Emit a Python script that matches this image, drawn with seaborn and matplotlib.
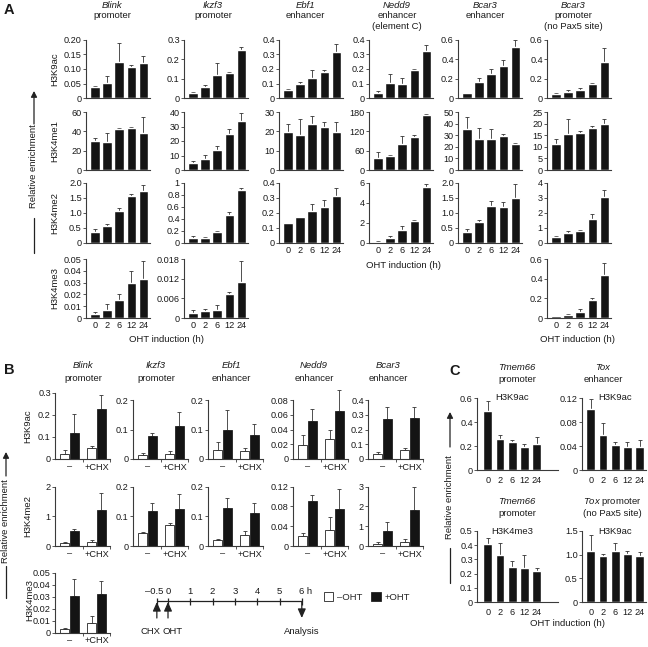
import numpy as np
import pandas as pd
import matplotlib
matplotlib.use("Agg")
import matplotlib.pyplot as plt
import seaborn as sns
from matplotlib.patches import FancyArrowPatch, Patch
from matplotlib.lines import Line2D

sns.set_theme(style="ticks")
plt.rcParams["font.family"] = ["Liberation Sans", "DejaVu Sans"]
plt.rcParams["mathtext.fontset"] = "custom"
plt.rcParams["mathtext.rm"] = "Liberation Sans"
plt.rcParams["mathtext.it"] = "Liberation Sans:italic"

# ---------------- DATA ----------------
times = ["0", "2", "6", "12", "24"]

# Panel A
a_cols = ["Blink", "Ikzf3", "Ebf1", "Nedd9", "Bcar3e", "Bcar3p"]
a_titles = [("Blink", ["promoter"]), ("Ikzf3", ["promoter"]), ("Ebf1", ["enhancer"]),
            ("Nedd9", ["enhancer", "(element C)"]), ("Bcar3", ["enhancer"]),
            ("Bcar3", ["promoter", "(no Pax5 site)"])]
a_marks = ["H3K9ac", "H3K4me1", "H3K4me2", "H3K4me3"]

a_h3k9ac = {"Blink": [0.038, 0.052, 0.122, 0.108, 0.121],
            "Ikzf3": [0.028, 0.058, 0.120, 0.130, 0.248],
            "Ebf1": [0.055, 0.100, 0.135, 0.180, 0.312],
            "Nedd9": [0.033, 0.103, 0.098, 0.195, 0.320],
            "Bcar3e": [0.055, 0.170, 0.250, 0.330, 0.520],
            "Bcar3p": [0.045, 0.065, 0.085, 0.150, 0.375]}
a_h3k9ac_err = {"Blink": [0.005, 0.024, 0.066, 0.005, 0.022],
                "Ikzf3": [0.005, 0.012, 0.062, 0.002, 0.013],
                "Ebf1": [0.010, 0.010, 0.055, 0.010, 0.055],
                "Nedd9": [0.020, 0.060, 0.040, 0.007, 0.042],
                "Bcar3e": [0.003, 0.040, 0.050, 0.060, 0.080],
                "Bcar3p": [0.005, 0.015, 0.020, 0.005, 0.135]}
a_h3k9ac_ticks = {"Blink": ["0", "0.05", "0.10", "0.15", "0.20"],
                  "Ikzf3": ["0", "0.1", "0.2", "0.3"],
                  "Ebf1": ["0", "0.1", "0.2", "0.3", "0.4"],
                  "Nedd9": ["0", "0.1", "0.2", "0.3", "0.4"],
                  "Bcar3e": ["0", "0.2", "0.4", "0.6"],
                  "Bcar3p": ["0", "0.2", "0.4", "0.6"]}

a_h3k4me1 = {"Blink": [30, 29, 42, 43, 38],
             "Ikzf3": [5, 7.5, 13.5, 25, 33.5],
             "Ebf1": [19.5, 18, 24, 22.5, 19.5],
             "Nedd9": [38, 42, 80, 103, 170],
             "Bcar3e": [35.5, 26.5, 26.5, 29.5, 22.5],
             "Bcar3p": [11, 15.5, 16, 18, 20]}
a_h3k4me1_err = {"Blink": [3, 9, 1, 1, 17],
                 "Ikzf3": [1.5, 3, 3, 3.5, 6],
                 "Ebf1": [4.5, 8.5, 4, 2.5, 5.5],
                 "Nedd9": [17, 5, 25, 7, 5],
                 "Bcar3e": [10.5, 10, 8.5, 1.5, 1],
                 "Bcar3p": [2.5, 6.5, 1, 0.8, 2]}
a_h3k4me1_ticks = {"Blink": ["0", "20", "40", "60"],
                   "Ikzf3": ["0", "10", "20", "30", "40"],
                   "Ebf1": ["0", "10", "20", "30"],
                   "Nedd9": ["0", "60", "120", "180"],
                   "Bcar3e": ["0", "10", "20", "30", "40", "50"],
                   "Bcar3p": ["0", "5", "10", "15", "20", "25"]}

a_h3k4me2 = {"Blink": [0.35, 0.57, 1.08, 1.55, 1.72],
             "Ikzf3": [0.08, 0.08, 0.18, 0.47, 0.88],
             "Ebf1": [0.13, 0.17, 0.215, 0.24, 0.314],
             "Nedd9": [0.12, 0.45, 1.3, 2.15, 5.6],
             "Bcar3e": [0.37, 0.70, 1.22, 1.20, 1.50],
             "Bcar3p": [0.40, 0.68, 0.80, 1.63, 3.08]}
a_h3k4me2_err = {"Blink": [0.12, 0.07, 0.07, 0.07, 0.22],
                 "Ikzf3": [0.04, 0.015, 0.02, 0.04, 0.04],
                 "Ebf1": [0.005, 0.005, 0.045, 0.045, 0.05],
                 "Nedd9": [0.05, 0.25, 0.4, 0.1, 0.3],
                 "Bcar3e": [0.10, 0.07, 0.18, 0.15, 0.45],
                 "Bcar3p": [0.05, 0.12, 0.04, 0.30, 0.42]}
a_h3k4me2_ticks = {"Blink": ["0", "0.5", "1.0", "1.5", "2.0"],
                   "Ikzf3": ["0", "0.2", "0.4", "0.6", "0.8", "1"],
                   "Ebf1": ["0", "0.1", "0.2", "0.3", "0.4"],
                   "Nedd9": ["0", "2", "4", "6"],
                   "Bcar3e": ["0", "0.5", "1.0", "1.5", "2.0"],
                   "Bcar3p": ["0", "1", "2", "3", "4"]}

a_h3k4me3 = {"Blink": [0.003, 0.007, 0.015, 0.030, 0.033],
             "Ikzf3": [0.0015, 0.002, 0.0025, 0.0073, 0.011],
             "Bcar3p": [0.020, 0.035, 0.065, 0.180, 0.440]}
a_h3k4me3_err = {"Blink": [0.002, 0.005, 0.005, 0.010, 0.015],
                 "Ikzf3": [0.001, 0.0008, 0.0015, 0.0005, 0.0063],
                 "Bcar3p": [0.003, 0.005, 0.030, 0.020, 0.120]}
a_h3k4me3_ticks = {"Blink": ["0", "0.01", "0.02", "0.03", "0.04", "0.05"],
                   "Ikzf3": ["0", "0.006", "0.012", "0.018"],
                   "Bcar3p": ["0", "0.2", "0.4", "0.6"]}

# Panel B
b_cols = ["Blink", "Ikzf3", "Ebf1", "Nedd9", "Bcar3"]
b_titles = [("Blink", "promoter"), ("Ikzf3", "promoter"), ("Ebf1", "enhancer"),
            ("Nedd9", "enhancer"), ("Bcar3", "enhancer")]
b_groups = ["\u2013", "+CHX"]
b_conds = ["\u2013OHT", "+OHT"]
# order: (-, -OHT), (-, +OHT), (+CHX, -OHT), (+CHX, +OHT)
b_h3k9ac = {"Blink": [0.025, 0.120, 0.048, 0.228],
            "Ikzf3": [0.012, 0.078, 0.017, 0.112],
            "Ebf1": [0.030, 0.100, 0.028, 0.083],
            "Nedd9": [0.019, 0.051, 0.027, 0.065],
            "Bcar3": [0.035, 0.270, 0.060, 0.275]}
b_h3k9ac_err = {"Blink": [0.015, 0.085, 0.012, 0.065],
                "Ikzf3": [0.010, 0.010, 0.010, 0.048],
                "Ebf1": [0.027, 0.065, 0.010, 0.035],
                "Nedd9": [0.013, 0.017, 0.013, 0.028],
                "Bcar3": [0.012, 0.085, 0.015, 0.075]}
b_h3k9ac_ticks = {"Blink": ["0", "0.1", "0.2", "0.3"],
                  "Ikzf3": ["0", "0.1", "0.2"],
                  "Ebf1": ["0", "0.1", "0.2"],
                  "Nedd9": ["0", "0.02", "0.04", "0.06", "0.08"],
                  "Bcar3": ["0", "0.1", "0.2", "0.3", "0.4"]}
b_h3k4me2 = {"Blink": [0.10, 0.52, 0.15, 1.22],
             "Ikzf3": [0.045, 0.118, 0.070, 0.124],
             "Ebf1": [0.020, 0.127, 0.037, 0.112],
             "Nedd9": [0.020, 0.092, 0.033, 0.075],
             "Bcar3": [0.12, 0.77, 0.22, 1.80]}
b_h3k4me2_err = {"Blink": [0.04, 0.04, 0.06, 0.57],
                 "Ikzf3": [0.003, 0.028, 0.006, 0.052],
                 "Ebf1": [0.005, 0.035, 0.012, 0.032],
                 "Nedd9": [0.007, 0.012, 0.025, 0.040],
                 "Bcar3": [0.08, 0.43, 0.13, 1.20]}
b_h3k4me2_ticks = {"Blink": ["0", "1", "2"],
                   "Ikzf3": ["0", "0.1", "0.2"],
                   "Ebf1": ["0", "0.1", "0.2"],
                   "Nedd9": ["0", "0.04", "0.08", "0.12"],
                   "Bcar3": ["0", "1", "2", "3"]}
b_h3k4me3_blink = [0.003, 0.031, 0.008, 0.032]
b_h3k4me3_blink_err = [0.001, 0.014, 0.006, 0.011]
b_h3k4me3_blink_ticks = ["0", "0.01", "0.02", "0.03", "0.04", "0.05"]

timeline_t = [-0.5, 0, 1, 2, 3, 4, 5, 6]
timeline_labels = ["\u20130.5", "0", "1", "2", "3", "4", "5", "6 h"]

# Panel C
c_tmem66_h3k9ac = [0.49, 0.255, 0.235, 0.19, 0.215]
c_tmem66_h3k9ac_err = [0.085, 0.04, 0.012, 0.025, 0.06]
c_tmem66_h3k9ac_ticks = ["0", "0.2", "0.4", "0.6"]
c_tox_enh_h3k9ac = [0.101, 0.059, 0.041, 0.038, 0.039]
c_tox_enh_h3k9ac_err = [0.018, 0.020, 0.006, 0.009, 0.011]
c_tox_enh_h3k9ac_ticks = ["0", "0.04", "0.08", "0.12"]
c_tmem66_h3k4me3 = [0.405, 0.33, 0.25, 0.242, 0.215]
c_tmem66_h3k4me3_err = [0.048, 0.082, 0.037, 0.092, 0.022]
c_tmem66_h3k4me3_ticks = ["0", "0.1", "0.2", "0.3", "0.4", "0.5"]
c_tox_prom_h3k9ac = [1.07, 0.97, 1.08, 1.02, 0.98]
c_tox_prom_h3k9ac_err = [0.35, 0.04, 0.16, 0.05, 0.08]
c_tox_prom_h3k9ac_ticks = ["0", "0.5", "1.0", "1.5"]

# ---------------- FIGURE ----------------
W, H = 648, 647
fig = plt.figure(figsize=(W / 100, H / 100), dpi=100)
FS = 6.6
TXT = "#1a1a1a"
BAR = "#141414"


def fx(x):
    return x / W


def fy(y):
    return 1 - y / H


def add_ax(left, top, width, bottom):
    return fig.add_axes([left / W, 1 - bottom / H, width / W, (bottom - top) / H])


def style(ax, ylabels):
    ticks = [float(s) for s in ylabels]
    ax.set_ylim(0, ticks[-1])
    ax.set_yticks(ticks)
    ax.set_yticklabels(ylabels)
    sns.despine(ax=ax)
    for sp in ["left", "bottom"]:
        ax.spines[sp].set_linewidth(0.8)
        ax.spines[sp].set_color("#3a3a3a")
    ax.tick_params(axis="y", length=2.0, width=0.6, pad=1.0, labelsize=FS,
                   colors="#3a3a3a", labelcolor=TXT)
    ax.set_xlabel("")
    ax.set_ylabel("")
    ax.patch.set_alpha(0)


def errbars(ax, xs, vals, errs, cap=1.6):
    ax.errorbar(xs, vals, yerr=[np.zeros(len(errs)), errs], fmt="none",
                ecolor="#333333", elinewidth=0.6, capsize=cap, capthick=0.6,
                clip_on=False, zorder=1)


def time_panel(ax, vals, errs, ylabels, show_x, xlim, pad, width):
    df = pd.DataFrame({"time": times, "value": vals})
    sns.barplot(data=df, x="time", y="value", order=times, color=BAR,
                saturation=1, width=width, errorbar=None, ax=ax, zorder=2)
    errbars(ax, np.arange(len(vals)), vals, errs)
    style(ax, ylabels)
    ax.set_xlim(*xlim)
    ax.tick_params(axis="x", length=0, pad=pad, labelsize=FS, labelcolor=TXT,
                   labelbottom=show_x)


# ---- Panel A ----
a_left = [86, 184, 279, 369, 458, 547]
a_rows = [(39.5, 98.3), (112, 170), (183, 243), (259, 318)]
a_data = [(a_h3k9ac, a_h3k9ac_err, a_h3k9ac_ticks),
          (a_h3k4me1, a_h3k4me1_err, a_h3k4me1_ticks),
          (a_h3k4me2, a_h3k4me2_err, a_h3k4me2_ticks),
          (a_h3k4me3, a_h3k4me3_err, a_h3k4me3_ticks)]
bottom_row = {"Blink": 3, "Ikzf3": 3, "Ebf1": 2, "Nedd9": 2, "Bcar3e": 2, "Bcar3p": 3}
for r, (vals_d, err_d, tick_d) in enumerate(a_data):
    top, bot = a_rows[r]
    for c, key in enumerate(a_cols):
        if key not in vals_d:
            continue
        ax = add_ax(a_left[c], top, 64, bot)
        time_panel(ax, vals_d[key], err_d[key], tick_d[key],
                   bottom_row[key] == r, (-0.75, 4.55), 2.2, 0.78)

a_title_x = [112, 213, 305, 397, 485, 573]
for (name, lines), x in zip(a_titles, a_title_x):
    fig.text(fx(x), fy(5), name, style="italic", fontsize=FS + 0.2, ha="center",
             va="center", color=TXT)
    for i, ln in enumerate(lines):
        fig.text(fx(x), fy(15.8 + 11 * i), ln, fontsize=FS + 0.2, ha="center",
                 va="center", color=TXT)
for r, mark in enumerate(a_marks):
    top, bot = a_rows[r]
    fig.text(fx(55), fy((top + bot) / 2), mark, rotation=90, fontsize=FS + 0.2,
             ha="center", va="center", color=TXT)
fig.text(fx(403), fy(265), "OHT induction (h)", fontsize=FS + 0.2, ha="center",
         va="center", color=TXT)
fig.text(fx(166), fy(340), "OHT induction (h)", fontsize=FS + 0.2, ha="center",
         va="center", color=TXT)
fig.text(fx(578), fy(340), "OHT induction (h)", fontsize=FS + 0.2, ha="center",
         va="center", color=TXT)


def rel_enrichment(x, arrow_tail, arrow_head, text_y, line_top, line_bot):
    fig.add_artist(FancyArrowPatch((fx(x), fy(arrow_tail)), (fx(x), fy(arrow_head)),
                                   transform=fig.transFigure, arrowstyle="-|>,head_length=3.5,head_width=1.8",
                                   color="#222", lw=0.9, mutation_scale=1, shrinkA=0, shrinkB=0))
    fig.text(fx(x), fy(text_y), "Relative enrichment", rotation=90, fontsize=FS + 0.2,
             ha="center", va="center", color=TXT)
    fig.add_artist(Line2D([fx(x), fx(x)], [fy(line_top), fy(line_bot)],
                          transform=fig.transFigure, color="#222", lw=0.9))


rel_enrichment(34, 124, 91, 166, 218, 253)
fig.text(fx(9), fy(10), "A", fontsize=10.5, fontweight="bold", ha="center", va="center",
         color=TXT)

# ---- Panel B ----
b_left = [55, 133, 208, 293, 368]
b_rows = [(400, 459), (486.7, 546), (572.7, 632.7)]
b_width = 0.72


def cond_panel(ax, vals, errs, ylabels, pad):
    df = pd.DataFrame({"group": [g for g in b_groups for _ in b_conds],
                       "cond": b_conds * len(b_groups),
                       "value": vals})
    sns.barplot(data=df, x="group", y="value", hue="cond", order=b_groups,
                hue_order=b_conds, palette={b_conds[0]: "white", b_conds[1]: BAR},
                edgecolor="#222", linewidth=0.6, saturation=1, width=b_width,
                gap=0.08, errorbar=None, legend=False, ax=ax, zorder=2)
    xs = [gi + (ci - 0.5) * b_width / 2 for gi in range(len(b_groups))
          for ci in range(len(b_conds))]
    errbars(ax, xs, vals, errs, cap=1.4)
    style(ax, ylabels)
    ax.set_xlim(-0.54, 1.5)
    ax.set_xticks([0.5, 1.5], minor=True)
    ax.tick_params(axis="x", which="major", length=0, pad=pad, labelsize=FS,
                   labelcolor=TXT)
    ax.tick_params(axis="x", which="minor", length=2.5, width=0.6, colors="#3a3a3a")


for c, key in enumerate(b_cols):
    top = 393 if key == "Blink" else b_rows[0][0]
    ax = add_ax(b_left[c], top, 55, b_rows[0][1])
    cond_panel(ax, b_h3k9ac[key], b_h3k9ac_err[key], b_h3k9ac_ticks[key], 2.6)
    ax = add_ax(b_left[c], b_rows[1][0], 55, b_rows[1][1])
    cond_panel(ax, b_h3k4me2[key], b_h3k4me2_err[key], b_h3k4me2_ticks[key], 2.6)
ax = add_ax(b_left[0], b_rows[2][0], 55, b_rows[2][1])
cond_panel(ax, b_h3k4me3_blink, b_h3k4me3_blink_err, b_h3k4me3_blink_ticks, 2.6)

b_title_x = [83, 156, 231, 314, 388]
for (name, sub), x in zip(b_titles, b_title_x):
    fig.text(fx(x), fy(366), name, style="italic", fontsize=FS + 0.2, ha="center",
             va="center", color=TXT)
    fig.text(fx(x), fy(378), sub, fontsize=FS + 0.2, ha="center", va="center", color=TXT)
for mark, yc, xx in [("H3K9ac", 426, 28), ("H3K4me2", 516, 28), ("H3K4me3", 600, 30)]:
    fig.text(fx(xx), fy(yc), mark, rotation=90, fontsize=FS + 0.2, ha="center",
             va="center", color=TXT)
rel_enrichment(6, 476, 452, 521, 566, 598)
fig.text(fx(9), fy(370), "B", fontsize=10.5, fontweight="bold", ha="center", va="center",
         color=TXT)

# timeline
tl = fig.add_axes([fx(140), fy(645), (318 - 140) / W, (645 - 583) / H])
px_per_h = 22.3
tl.set_xlim((140 - 168) / px_per_h, (318 - 168) / px_per_h)
tl.set_ylim(645, 583)
tl.axis("off")
tl.plot([timeline_t[0], timeline_t[-1]], [601, 601], color="#222", lw=0.9)
tl.vlines(timeline_t, 597.5, 604.5, color="#222", lw=0.9)
for t, lab in zip(timeline_t, timeline_labels):
    xoff = 0.15 if lab.endswith("h") else (-0.1 if t < 0 else 0)
    tl.text(t + xoff, 591, lab, fontsize=FS + 0.2, ha="center", va="center", color=TXT)
for t in [-0.5, 0]:
    tl.annotate("", xy=(t, 602), xytext=(t, 618),
                arrowprops=dict(arrowstyle="-|>,head_length=0.45,head_width=0.2",
                                color="#222", lw=0.9, shrinkA=0, shrinkB=0))
tl.annotate("", xy=(6, 618), xytext=(6, 602),
            arrowprops=dict(arrowstyle="-|>,head_length=0.45,head_width=0.2",
                            color="#222", lw=0.9, shrinkA=0, shrinkB=0))
tl.text(-0.78, 632, "CHX", fontsize=FS + 0.2, ha="center", va="center", color=TXT)
tl.text(0.2, 632, "OHT", fontsize=FS + 0.2, ha="center", va="center", color=TXT)
tl.text(6.0, 632, "Analysis", fontsize=FS + 0.2, ha="center", va="center", color=TXT)

fig.legend(handles=[Patch(facecolor="white", edgecolor="#222", linewidth=0.6, label=b_conds[0]),
                    Patch(facecolor=BAR, edgecolor="#222", linewidth=0.6, label=b_conds[1])],
           loc="center", bbox_to_anchor=(fx(367), fy(597)), ncol=2, frameon=False,
           fontsize=FS + 0.2, handlelength=1.0, handleheight=1.0, handletextpad=0.45,
           columnspacing=0.9, borderpad=0, borderaxespad=0)

# ---- Panel C ----
c_specs = [
    (477, (398, 470), c_tmem66_h3k9ac, c_tmem66_h3k9ac_err, c_tmem66_h3k9ac_ticks, "H3K9ac", (-0.89, 5.75)),
    (582, (398, 470), c_tox_enh_h3k9ac, c_tox_enh_h3k9ac_err, c_tox_enh_h3k9ac_ticks, "H3K9ac", (-0.72, 4.56)),
    (477, (531, 602), c_tmem66_h3k4me3, c_tmem66_h3k4me3_err, c_tmem66_h3k4me3_ticks, "H3K4me3", (-0.89, 5.75)),
    (582, (531, 602), c_tox_prom_h3k9ac, c_tox_prom_h3k9ac_err, c_tox_prom_h3k9ac_ticks, "H3K9ac", (-0.72, 4.56)),
]
for left, (top, bot), vals, errs, ticks, mark, xlim in c_specs:
    width = (xlim[1] - xlim[0]) * 12.2
    ax = add_ax(left, top, width, bot)
    time_panel(ax, vals, errs, ticks, True, xlim, 4.4, 0.72)
    ax.text(2.0, float(ticks[-1]), mark, fontsize=FS + 0.2, ha="center", va="center",
            color=TXT, transform=ax.transData)

fig.text(fx(517), fy(368), "Tmem66", style="italic", fontsize=FS + 0.2, ha="center",
         va="center", color=TXT)
fig.text(fx(517), fy(380), "promoter", fontsize=FS + 0.2, ha="center", va="center", color=TXT)
fig.text(fx(603), fy(368), "Tox", style="italic", fontsize=FS + 0.2, ha="center",
         va="center", color=TXT)
fig.text(fx(603), fy(380), "enhancer", fontsize=FS + 0.2, ha="center", va="center", color=TXT)
fig.text(fx(517), fy(502), "Tmem66", style="italic", fontsize=FS + 0.2, ha="center",
         va="center", color=TXT)
fig.text(fx(517), fy(514), "promoter", fontsize=FS + 0.2, ha="center", va="center", color=TXT)
fig.text(fx(612), fy(502), r"$\mathit{Tox}$ promoter", fontsize=FS + 0.2, ha="center",
         va="center", color=TXT)
fig.text(fx(612), fy(514), "(no Pax5 site)", fontsize=FS + 0.2, ha="center", va="center",
         color=TXT)
fig.text(fx(567), fy(624), "OHT induction (h)", fontsize=FS + 0.2, ha="center",
         va="center", color=TXT)
rel_enrichment(450, 447, 412, 497, 548, 583)
fig.text(fx(455), fy(371), "C", fontsize=10.5, fontweight="bold", ha="center", va="center",
         color=TXT)

fig.savefig("out.png", dpi=100)
